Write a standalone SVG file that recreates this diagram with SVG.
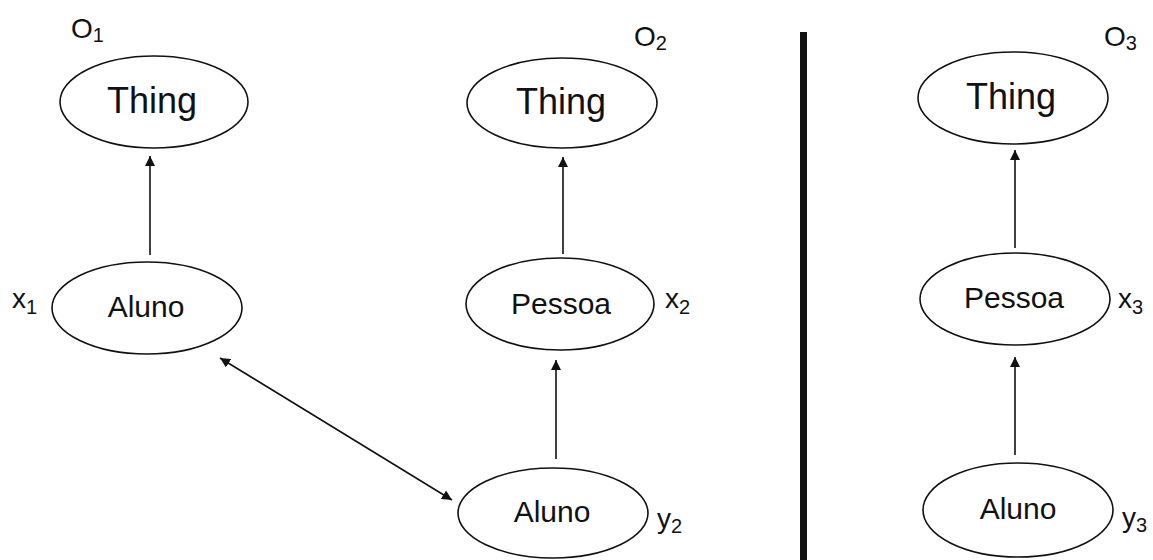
<svg xmlns="http://www.w3.org/2000/svg" width="1153" height="560" viewBox="0 0 1153 560">
  <style>
    .node ellipse { fill: #ffffff; stroke: #111111; stroke-width: 1.6; }
    .big { font-family: "Liberation Sans", Arial, sans-serif; font-size: 36px; fill: #111111; text-anchor: middle; }
    .lbl { font-family: "Liberation Sans", Arial, sans-serif; font-size: 30px; fill: #111111; text-anchor: middle; }
    .tag { font-family: "Liberation Sans", Arial, sans-serif; font-size: 28px; fill: #111111; }
    .sub { font-size: 20px; }
    .edge { stroke: #111111; stroke-width: 1.6; fill: none; marker-end: url(#head); }
  </style>
  <defs>
    <marker id="head" viewBox="0 0 10 10" refX="10" refY="5" markerWidth="10" markerHeight="10" markerUnits="userSpaceOnUse" orient="auto-start-reverse">
      <path d="M0,0 L10,5 L0,10 z" fill="#111111"/>
    </marker>
  </defs>
  <rect width="1153" height="560" fill="#ffffff"/>

  <!-- first ontology -->
  <g id="o1-thing" class="node">
    <ellipse cx="154" cy="102" rx="94" ry="46"/>
    <text class="big" x="152" y="113">Thing</text>
  </g>
  <g id="o1-label"><text class="tag" x="71" y="38">O<tspan class="sub" dy="4">1</tspan></text></g>
  <g id="o1-aluno" class="node">
    <ellipse cx="147" cy="308" rx="95" ry="46"/>
    <text class="lbl" x="146" y="317">Aluno</text>
  </g>
  <g id="x1-label"><text class="tag" x="12" y="308">x<tspan class="sub" dy="6">1</tspan></text></g>

  <!-- second ontology -->
  <g id="o2-thing" class="node">
    <ellipse cx="562" cy="103" rx="95" ry="45"/>
    <text class="big" x="561" y="114">Thing</text>
  </g>
  <g id="o2-label"><text class="tag" x="634" y="46">O<tspan class="sub" dy="4">2</tspan></text></g>
  <g id="o2-pessoa" class="node">
    <ellipse cx="560" cy="304" rx="94" ry="46"/>
    <text class="lbl" x="561" y="314">Pessoa</text>
  </g>
  <g id="x2-label"><text class="tag" x="665" y="308">x<tspan class="sub" dy="6">2</tspan></text></g>
  <g id="o2-aluno" class="node">
    <ellipse cx="553" cy="513" rx="95" ry="45"/>
    <text class="lbl" x="552" y="522">Aluno</text>
  </g>
  <g id="y2-label"><text class="tag" x="657" y="528">y<tspan class="sub" dy="5">2</tspan></text></g>

  <!-- divider -->
  <rect x="800" y="32" width="7" height="528" fill="#111111"/>

  <!-- third ontology -->
  <g id="o3-thing" class="node">
    <ellipse cx="1013" cy="98" rx="95" ry="46"/>
    <text class="big" x="1011" y="109">Thing</text>
  </g>
  <g id="o3-label"><text class="tag" x="1104" y="46">O<tspan class="sub" dy="4">3</tspan></text></g>
  <g id="o3-pessoa" class="node">
    <ellipse cx="1015" cy="299" rx="95" ry="46"/>
    <text class="lbl" x="1014" y="308">Pessoa</text>
  </g>
  <g id="x3-label"><text class="tag" x="1118" y="308">x<tspan class="sub" dy="6">3</tspan></text></g>
  <g id="o3-aluno" class="node">
    <ellipse cx="1018" cy="510" rx="95" ry="47"/>
    <text class="lbl" x="1018" y="519">Aluno</text>
  </g>
  <g id="y3-label"><text class="tag" x="1122" y="527">y<tspan class="sub" dy="5">3</tspan></text></g>

  <!-- connectors -->
  <g id="connectors">
    <line class="edge" x1="150" y1="255" x2="150" y2="156"/>
    <line class="edge" x1="563" y1="254" x2="563" y2="157"/>
    <line class="edge" x1="556" y1="459" x2="556" y2="360"/>
    <line class="edge" x1="1015" y1="248" x2="1015" y2="150"/>
    <line class="edge" x1="1015" y1="455" x2="1015" y2="357"/>
    <line class="edge" x1="220" y1="358" x2="452" y2="500" marker-start="url(#head)"/>
  </g>
</svg>
